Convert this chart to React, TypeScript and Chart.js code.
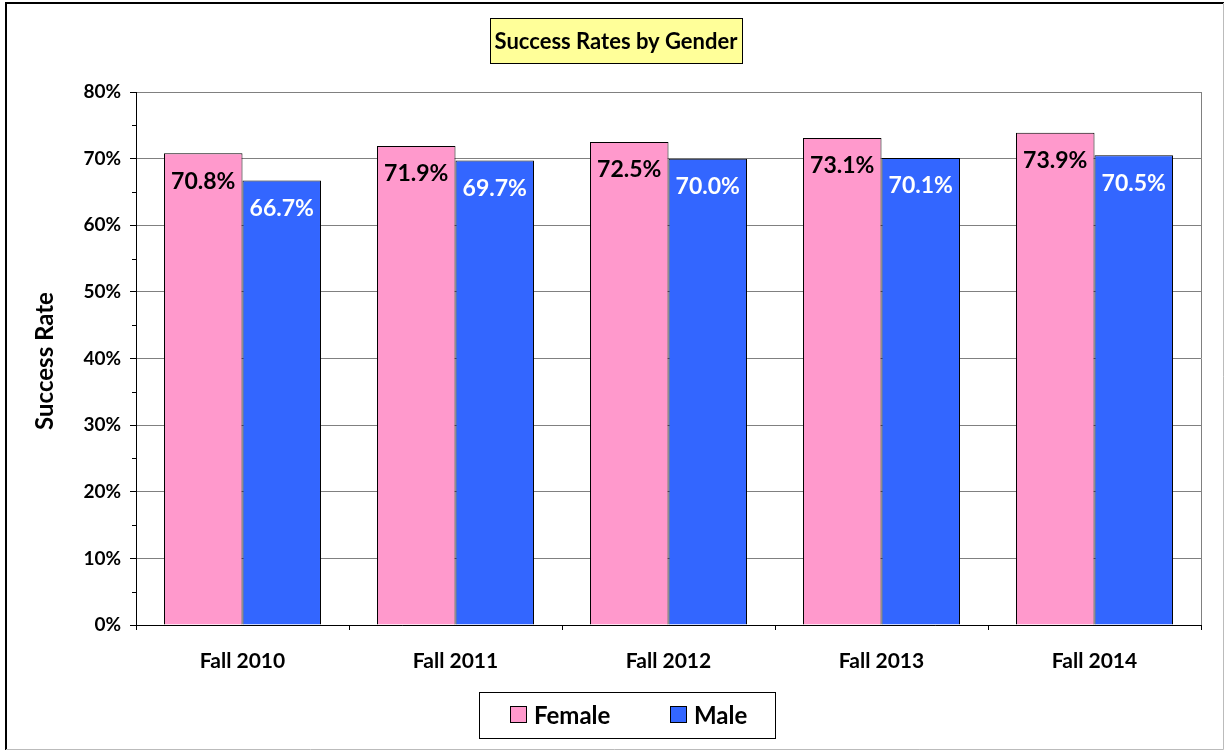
import React, { useEffect, useRef } from "react";
import { Chart, registerables } from "chart.js";

Chart.register(...registerables);

const categories = ["Fall 2010", "Fall 2011", "Fall 2012", "Fall 2013", "Fall 2014"];
const femaleRates = [0.708, 0.719, 0.725, 0.731, 0.739];
const maleRates = [0.667, 0.697, 0.700, 0.701, 0.705];
const seriesNames = ["Female", "Male"];
const seriesColors = ["#FF99CC", "#3366FF"];
const labelColors = ["#000000", "#FFFFFF"];
const chartTitle = "Success Rates by Gender";
const yAxisTitle = "Success Rate";

const FONT = "Lato, 'Open Sans', sans-serif";

const decorPlugin = {
  id: "decor",
  beforeDraw(chart: any) {
    const { ctx, width, height } = chart;
    ctx.save();
    ctx.fillStyle = "#FFFFFF";
    ctx.fillRect(0, 0, width, height);
    ctx.restore();
  },
  afterDatasetsDraw(chart: any) {
    const { ctx } = chart;
    chart.data.datasets.forEach((ds: any, di: number) => {
      const meta = chart.getDatasetMeta(di);
      meta.data.forEach((bar: any, i: number) => {
        const v = ds.data[i];
        ctx.save();
        ctx.font = `bold 23px ${FONT}`;
        ctx.fillStyle = labelColors[di];
        ctx.textAlign = "center";
        ctx.textBaseline = "middle";
        ctx.fillText((v * 100).toFixed(1) + "%", bar.x, bar.y + 28);
        ctx.restore();
      });
    });
  },
  afterDraw(chart: any) {
    const { ctx, chartArea, width, height } = chart;
    const y = chart.scales.y;
    ctx.save();
    ctx.strokeStyle = "#808080";
    ctx.lineWidth = 1;
    ctx.beginPath();
    ctx.moveTo(chartArea.right + 0.5, chartArea.top);
    ctx.lineTo(chartArea.right + 0.5, chartArea.bottom);
    ctx.stroke();
    ctx.strokeStyle = "#000000";
    for (let k = 0; k < 8; k++) {
      const py = Math.round(y.getPixelForValue(k * 0.1 + 0.05)) + 0.5;
      ctx.beginPath();
      ctx.moveTo(chartArea.left - 4, py);
      ctx.lineTo(chartArea.left, py);
      ctx.stroke();
    }
    // title box
    ctx.fillStyle = "#FFFF99";
    ctx.fillRect(490, 18, 252, 45);
    ctx.strokeStyle = "#000000";
    ctx.lineWidth = 1;
    ctx.strokeRect(490.5, 18.5, 252, 45);
    ctx.font = `bold 22px ${FONT}`;
    ctx.fillStyle = "#000000";
    ctx.textAlign = "center";
    ctx.textBaseline = "middle";
    ctx.fillText(chartTitle, 616, 42);
    // y axis title
    ctx.save();
    ctx.translate(45, 361);
    ctx.rotate(-Math.PI / 2);
    ctx.font = `bold 24px ${FONT}`;
    ctx.fillText(yAxisTitle, 0, 0);
    ctx.restore();
    // legend
    ctx.fillStyle = "#FFFFFF";
    ctx.fillRect(479, 692, 296, 46);
    ctx.strokeStyle = "#000000";
    ctx.strokeRect(479.5, 692.5, 296, 46);
    ctx.font = `bold 24px ${FONT}`;
    ctx.textAlign = "left";
    const items = [
      { x: 510, name: seriesNames[0], c: seriesColors[0] },
      { x: 670, name: seriesNames[1], c: seriesColors[1] },
    ];
    items.forEach((it) => {
      ctx.fillStyle = it.c;
      ctx.fillRect(it.x, 706, 17, 17);
      ctx.strokeStyle = "#000000";
      ctx.strokeRect(it.x + 0.5, 706.5, 16, 16);
      ctx.fillStyle = "#000000";
      ctx.fillText(it.name, it.x + 24, 716);
    });
    // outer frame
    ctx.strokeStyle = "#000000";
    ctx.lineWidth = 2;
    ctx.beginPath();
    ctx.moveTo(6, height);
    ctx.lineTo(6, 3);
    ctx.lineTo(width, 3);
    ctx.stroke();
    ctx.strokeStyle = "#BBBBBB";
    ctx.lineWidth = 1;
    ctx.beginPath();
    ctx.moveTo(6, height - 0.5);
    ctx.lineTo(width - 0.5, height - 0.5);
    ctx.lineTo(width - 0.5, 3);
    ctx.stroke();
    ctx.restore();
  },
};

export default function App() {
  const ref = useRef<HTMLCanvasElement>(null);
  useEffect(() => {
    document.body.style.margin = "0";
    const chart = new Chart(ref.current!, {
      type: "bar",
      data: {
        labels: categories,
        datasets: [
          {
            label: seriesNames[0],
            data: femaleRates,
            backgroundColor: seriesColors[0],
            borderColor: "#000000",
            borderWidth: 1,
            categoryPercentage: 0.737,
            barPercentage: 1,
          },
          {
            label: seriesNames[1],
            data: maleRates,
            backgroundColor: seriesColors[1],
            borderColor: "#000000",
            borderWidth: 1,
            categoryPercentage: 0.737,
            barPercentage: 1,
          },
        ],
      },
      options: {
        animation: false,
        responsive: false,
        maintainAspectRatio: false,
        layout: { padding: { left: 0, top: 92, right: 23, bottom: 75 } },
        plugins: {
          legend: { display: false },
          title: { display: false },
          tooltip: { enabled: false },
        },
        scales: {
          x: {
            offset: true,
            grid: {
              offset: true,
              drawOnChartArea: false,
              drawTicks: true,
              tickLength: 5,
              tickColor: "#000000",
            },
            border: { color: "#000000", width: 1 },
            ticks: {
              color: "#000000",
              padding: 19,
              font: { family: FONT, weight: "bold", size: 21 },
            },
            afterFit(scale: any) {
              scale.height = 50;
            },
          },
          y: {
            min: 0,
            max: 0.8,
            ticks: {
              stepSize: 0.1,
              color: "#000000",
              padding: 9,
              font: { family: FONT, weight: "bold", size: 19 },
              callback: (v: any) => Math.round(Number(v) * 100) + "%",
            },
            grid: {
              color: "#808080",
              tickColor: "#000000",
              tickLength: 6,
              drawTicks: true,
            },
            border: { color: "#000000", width: 1 },
            afterFit(scale: any) {
              scale.width = 136;
            },
          },
        },
      },
      plugins: [decorPlugin],
    });
    return () => chart.destroy();
  }, []);
  return (
    <div style={{ position: "absolute", left: 0, top: 0, width: 1224, height: 750 }}>
      <canvas ref={ref} width={1224} height={750} style={{ display: "block" }} />
    </div>
  );
}
